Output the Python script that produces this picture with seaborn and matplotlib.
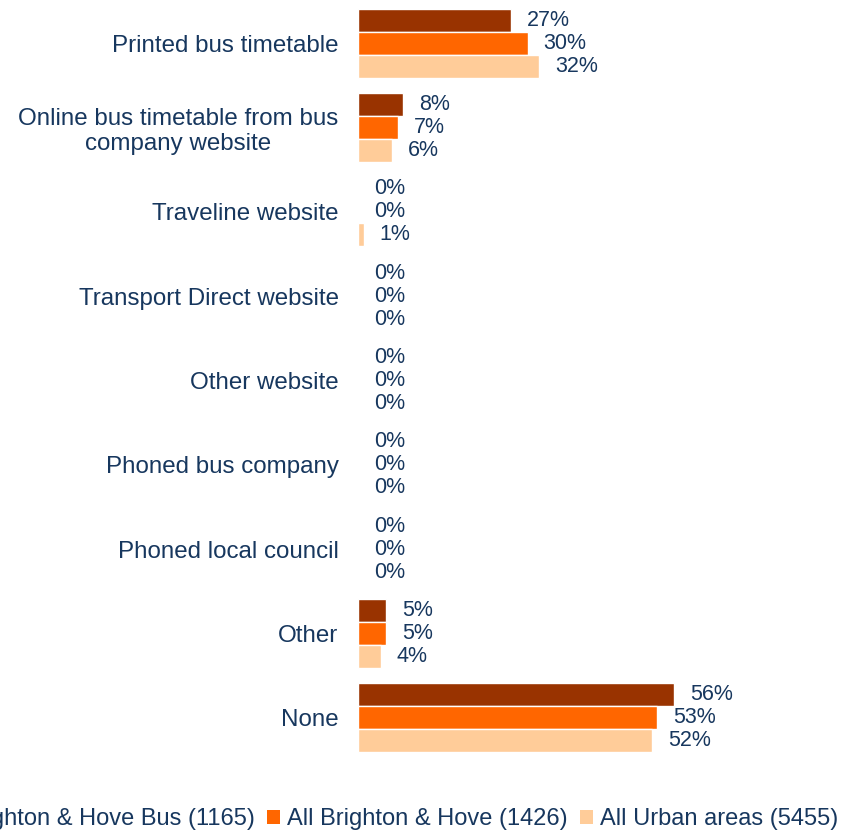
import matplotlib
matplotlib.use("Agg")
import matplotlib.pyplot as plt
import seaborn as sns
import pandas as pd
from matplotlib.patches import Patch

categories = ["Printed bus timetable",
              "Online bus timetable from bus\ncompany website",
              "Traveline website",
              "Transport Direct website",
              "Other website",
              "Phoned bus company",
              "Phoned local council",
              "Other",
              "None"]
series_names = ["Brighton & Hove Bus (1165)", "All Brighton & Hove (1426)", "All Urban areas (5455)"]
bh_bus = [27, 8, 0, 0, 0, 0, 0, 5, 56]
all_bh = [30, 7, 0, 0, 0, 0, 0, 5, 53]
urban = [32, 6, 1, 0, 0, 0, 0, 4, 52]
colors = ["#993300", "#FF6600", "#FFCC99"]
text_color = "#17375E"

rows = []
for name, vals in zip(series_names, [bh_bus, all_bh, urban]):
    for c, v in zip(categories, vals):
        rows.append({"cat": c, "series": name, "val": v})
df = pd.DataFrame(rows)

sns.set_style("white")
plt.rcParams["font.family"] = ["Liberation Sans", "DejaVu Sans"]

fig = plt.figure(figsize=(8.44, 8.33), dpi=100)
ax = fig.add_axes([358 / 844, 1 - 760 / 833, (800 - 358) / 844, 759 / 833])
sns.barplot(data=df, y="cat", x="val", hue="series", order=categories,
            hue_order=series_names, palette=colors, orient="h", width=0.82,
            saturation=1, ax=ax, legend=False, errorbar=None)
ax.set_xlim(0, 442 / 5.65)
for cont in ax.containers:
    ax.bar_label(cont, labels=[f"{v:.0f}%" for v in cont.datavalues],
                 padding=11.5, color=text_color, fontsize=15.5)
for s in ax.spines.values():
    s.set_visible(False)
ax.set_xticks([])
ax.set_xlabel("")
ax.set_ylabel("")
ax.tick_params(axis="y", length=0, pad=14, labelsize=17.4, labelcolor=text_color)
for lab in ax.get_yticklabels():
    lab.set_multialignment("center")

handles = [Patch(facecolor=c, edgecolor="none") for c in colors]
fig.legend(handles, series_names, loc="center right",
           bbox_to_anchor=(838 / 844, 1 - 819 / 833), ncol=3, frameon=False,
           fontsize=17, labelcolor=text_color, handlelength=0.55, handleheight=0.55,
           handletextpad=0.3, columnspacing=0.5, borderaxespad=0, borderpad=0)
fig.savefig("out.png", dpi=100)
